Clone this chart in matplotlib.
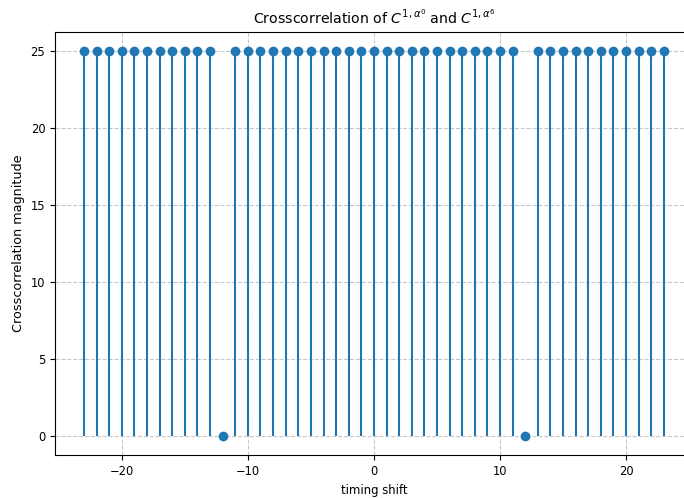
import matplotlib
matplotlib.use("Agg")
import matplotlib.pyplot as plt

# timing shifts and crosscorrelation magnitudes
shifts = list(range(-23, 24))
magnitudes = [25] * 47
magnitudes[shifts.index(-12)] = 0
magnitudes[shifts.index(12)] = 0

fig, ax = plt.subplots(figsize=(6.84, 4.98), dpi=100)

markerline, stemlines, baseline = ax.stem(shifts, magnitudes)
baseline.set_visible(False)

ax.set_title(r"Crosscorrelation of $C^{1,\alpha^0}$ and $C^{1,\alpha^6}$", fontsize=10.2)
ax.set_xlabel("timing shift", fontsize=8.4)
ax.set_ylabel("Crosscorrelation magnitude", fontsize=9.2)
ax.tick_params(labelsize=8.3)
ax.grid(True, linestyle="--", alpha=0.7)

# the plot runs past the right edge of the image
fig.subplots_adjust(left=0.0804, right=1.013, top=0.936, bottom=0.0858)
fig.savefig("out.png", dpi=100)
